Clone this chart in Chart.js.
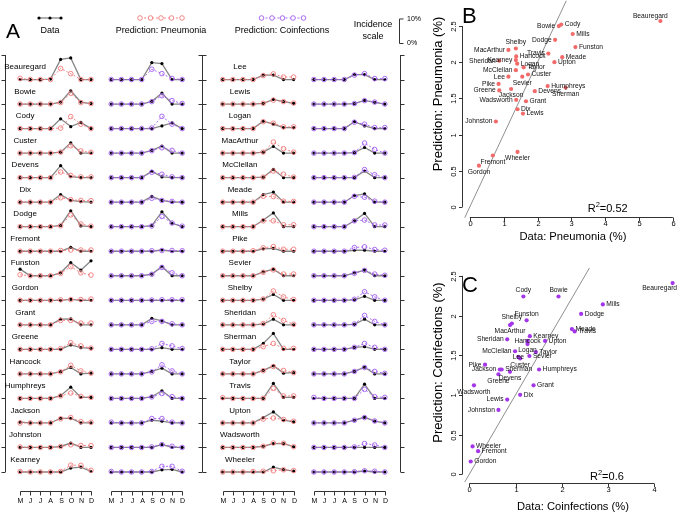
<!DOCTYPE html>
<html><head><meta charset="utf-8">
<script src="https://cdn.jsdelivr.net/npm/chart.js@4"></script>
<style>
html,body{margin:0;padding:0;background:#fff;}
#wrap{position:relative;width:685px;height:512px;overflow:hidden;background:#fff;}
.c{position:absolute;}
</style></head><body>
<div id="wrap">
<div class="c" style="left:0;top:0;width:430px;height:512px"><canvas id="pa"></canvas></div>
<div class="c" style="left:405px;top:0;width:280px;height:250px"><canvas id="pb"></canvas></div>
<div class="c" style="left:405px;top:250px;width:280px;height:262px"><canvas id="pc"></canvas></div>
</div>
<script>
// ---------------- DATA ----------------
const months = ['M','J','J','A','S','O','N','D'];
const camps = ['Beauregard','Bowie','Cody','Custer','Devens','Dix','Dodge','Fremont','Funston','Gordon','Grant','Greene','Hancock','Humphreys','Jackson','Johnston','Kearney',
  'Lee','Lewis','Logan','MacArthur','McClellan','Meade','Mills','Pike','Sevier','Shelby','Sheridan','Sherman','Taylor','Travis','Upton','Wadsworth','Wheeler'];
// monthly incidence (%), pneumonia: data
const pneuData = [
 [0,0,0,0.2,8.2,8.8,0,0],[0,0,0,0,0.8,5.4,0.8,0.2],[0,0,0,0,4.0,0.8,2.5,0],[0,0,0,0,0.4,4.2,0,0],
 [0,0,0,0,4.9,0.4,0,0],[0,0,0,0,3.1,0.7,0.2,0],[0,0,0,0,0.5,6.5,0.3,0],[0,0,0,0,0,1.6,0,0],
 [2.7,0,0,0,1.2,5.4,2.3,6.1],[0,0,0,0,0,0.4,0,0],[0,0,0,0,2.3,2.4,0,0],[0,0,0,0,0,1.8,0.7,0.4],
 [0,0,0,0,0.9,2.6,0,0.3],[0,0,0,0,1.1,4.6,0.4,0.4],[0.3,0,0,0,1.9,1.9,0,0],[0,0,0,0,0.4,1.8,0,0],
 [0,0,0,0,0,1.6,2.0,0.2],
 [0,0,0,0,1.8,1.8,0,0],[0,0,0,0,0.3,1.9,1.0,0.3],[0,0,0,0,3.0,1.8,0.4,0.4],[0,0,0,0,0.4,2.7,0,0],
 [0,0,0,0,0.2,3.4,0,0],[0,0,0,0,3.1,4.1,0,0],[0,0,0,0,2.7,5.6,0,0],[0,0,0,0,1.0,1.2,0,0],
 [0,0,0,0,1.6,2.7,0,0],[0,0,0,0,0.5,2.4,0,0],[0,0,0,0,0.3,2.3,0,0],[0,0,0,0,2.4,6.5,0,0],
 [0,0,0,0,1.4,3.3,0.3,0.5],[0,0,0,0,0,6.1,0.4,0.4],[0,0,0,0,2.2,4.5,1.1,0.4],[0,0,0,0,0.5,1.6,1.6,0.3],
 [0,0,0,0,0,2.0,1.0,0.4]];
// pneumonia: prediction
const pneuPred = [
 [0.5,0,0,0,4.5,2.4,0,0],[0,0,0,0,0.6,4.4,0.6,0.2],[0,0,0,0,0.2,4.9,1.8,0],[0,0,0,0,0.4,3.0,0.9,0.3],
 [0,0,0,0,2.3,0.9,0.3,0.3],[0,0,0,0,1.8,1.0,0.7,0.6],[0,0,0,0,0.4,4.8,1.1,0.2],[0,0,0,0,0.3,0.5,0.5,0.5],
 [0.4,0,0,0,1.0,3.7,1.2,0.3],[0,0,0,0,0.2,0.3,0.3,0.5],[0,0,0,0,1.8,1.8,0.7,0.7],[0,0,0,0,0.3,2.7,1.4,0.5],
 [0,0,0,0,0.8,3.5,1.2,0.3],[0,0,0,0,1.0,2.2,0.8,0.4],[0,0,0,0,1.7,2.2,0.5,0.3],[0.2,0,0,0,0.4,1.1,0.8,0.8],
 [0.2,0,0,0,0.2,2.8,2.7,0.7],
 [0,0,0,0,1.6,2.3,1.0,1.0],[0,0,0,0,0.3,1.6,1.0,0.4],[0,0,0,0,2.8,2.2,0.7,0.7],[0,0,0,0,0.4,4.5,1.8,0.4],
 [0,0,0,0,0.2,2.7,1.4,0.2],[0,0,0,0,2.4,2.3,0.4,0.3],[0,0,0,0,2.4,2.4,0.8,0.8],[0,0,0,0.2,1.4,1.9,0.8,0.8],
 [0,0,0,0,1.4,2.4,0.7,0.7],[0,0,0,0,0.5,3.8,1.4,0.3],[0,0,0,0,0.5,4.1,1.8,0.2],[0,0,0,0,1.1,2.4,0.4,0.4],
 [0,0,0,0,1.3,3.0,1.4,0.5],[0.3,0,0,0,0,4.1,1.0,1.0],[0,0,0,0,1.6,2.0,1.4,0.7],[0,0,0,0,0.5,1.8,1.7,0.3],
 [0,0,0,0.2,0.3,0.5,0.9,0.6]];
// coinfections: data
const coinData = [
 [0,0,0,0,6.9,6.5,0,0],[0,0,0,0,1.1,4.5,0,0],[0,0,0,0,0,1.1,2.3,0],[0,0,0,0,1.1,2.9,0,0],
 [0,0,0,0,2.6,0.3,0,0],[0,0,0,0,2.4,0.7,0,0],[0,0,0,0,0.4,6.1,1.4,0],[0,0,0,0,0,0.5,0,0],
 [0,0,0,0,0.7,3.7,0,0],[0,0,0,0,0,0,0,0],[0,0,0,0,2.6,1.6,0,0],[0,0,0,0,0,0.7,0,0],
 [0,0,0,0,1.0,2.3,0,0],[0,0,0,0,0.7,3.1,0,0],[0,0,0,0,1.1,0.7,0,0],[0,0,0,0,0,1.2,0,0],
 [0,0,0,0,0,0.9,1.1,0],
 [0,0,0,0,2.0,2.0,0,0],[0,0,0,0,0.2,1.5,0.7,0],[0,0,0,0,2.8,1.1,0,0],[0,0,0,0,0.2,2.3,0,0],
 [0,0,0,0,0,2.7,0,0],[0,0,0,0,2.7,3.4,0,0],[0,0,0,0,2.4,5.4,0,0],[0,0,0,0,0.4,0.4,0,0],
 [0,0,0,0,1.2,2.3,0,0],[0,0,0,0,0.2,1.6,0,0],[0,0,0,0,0.2,2.3,0,0],[0,0,0,0,0.8,1.1,0,0],
 [0,0,0,0,1.0,2.7,0,0],[0,0,0,0,0,5.8,0,0],[0,0,0,0,1.1,2.3,0.7,0],[0,0,0,0,0,0,0,0],
 [0,0,0,0,0,0.4,0,0]];
// coinfections: prediction
const coinPred = [
 [0,0,0,0,4.2,2.4,0.4,0],[0,0,0,0,1.0,3.4,1.4,0.2],[0,0,0,0,0.2,5.0,1.8,0],[0,0,0,0,1.0,2.2,1.1,0],
 [0,0,0,0,2.2,1.4,0.3,0],[0,0,0,0,1.6,0.7,0.3,0],[0,0,0,0,0.3,4.2,1.5,0.2],[0,0,0,0,0.2,0.3,0.3,0.2],
 [0,0,0,0,0.6,3.4,1.2,0],[0,0,0,0,0.1,0.2,0.2,0.2],[0,0,0,0,1.4,1.4,0.4,0],[0,0,0,0,0.2,2.4,1.4,0.3],
 [0,0,0,0,0.8,3.7,1.2,0],[0,0,0,0,0.6,2.0,0.7,0],[0.3,0,0,0,1.8,1.8,0.3,0],[0,0,0,0,0.2,1.2,0.5,0],
 [0.2,0,0,0,0.2,2.3,2.3,0.3],
 [0,0,0,0,1.8,2.4,0.4,0.4],[0,0,0,0,0.2,1.4,0.8,0],[0,0,0,0,2.6,1.8,0.4,0.4],[0,0,0,0,0.2,4.1,1.5,0],
 [0,0,0,0,0.1,3.3,1.2,0],[0,0,0,0,2.4,2.0,0.4,0],[0,0,0,0,2.4,2.7,0.7,0.7],[0,0,0,0,1.5,1.8,0.7,0.4],
 [0,0,0,0,1.0,2.2,0.7,0.2],[0,0,0,0,0.4,3.5,1.4,0],[0,0,0,0,0.3,3.8,1.4,0],[0,0,0,0,0.8,2.4,0.8,0],
 [0,0,0,0,1.0,2.6,1.0,0.2],[0.4,0,0,0,0,3.7,0.7,0.4],[0,0,0,0,1.1,2.2,0.8,0],[0,0,0,0,0.2,1.6,1.0,0],
 [0,0,0,0,0.1,0.5,0.3,0]];
// panel B: pneumonia (%) data vs prediction, camp order
const scatPneuData = [5.63,2.63,2.70,1.72,1.92,1.41,2.52,0.68,3.12,0.27,1.66,0.87,1.37,2.30,1.22,0.77,1.36,
  1.14,1.57,1.40,1.14,1.36,2.73,3.04,0.85,1.55,1.36,0.87,2.83,1.59,2.32,2.50,1.37,1.41];
const scatPneuPred = [2.57,2.50,2.52,1.83,1.60,1.35,2.31,0.71,2.21,0.57,1.46,1.61,2.08,1.67,1.63,1.18,2.03,
  1.80,1.29,1.98,2.17,1.89,2.07,2.39,1.70,1.80,2.19,2.02,1.65,1.93,2.12,2.00,1.48,0.76];
// panel C: coinfections (%) data vs prediction
const scatCoinData = [4.40,1.93,1.17,1.10,0.88,1.10,2.42,0.19,1.24,0.03,1.39,0.63,1.26,1.51,0.66,0.63,1.31,
  1.06,0.82,1.26,0.88,0.99,2.22,2.89,0.34,1.30,0.92,0.82,0.70,1.44,2.28,1.64,0.10,0.07];
const scatCoinPred = [2.41,2.24,2.24,1.46,1.29,1.00,2.02,0.29,1.94,0.16,1.12,1.26,1.68,1.32,1.32,0.81,1.74,
  1.48,0.94,1.64,1.88,1.55,1.83,2.14,1.38,1.49,1.90,1.70,1.32,1.54,1.80,1.68,1.12,0.35];
const r2Pneu = '0.52', r2Coin = '0.6';
const bTicksX = [0,1,2,3,4,5,6];
const cTicksX = [0,1,2,3,4];
const scatTicksY = [0,0.5,1,1.5,2,2.5];
const legendTexts = ['Data','Prediction: Pneumonia','Prediction: Coinfections'];
const scaleTexts = ['Incidence','scale','10%','0%'];

// ---------------- STYLE / LAYOUT ----------------
const FONT = '"Liberation Sans", Arial, Helvetica, sans-serif';
const PINK = '#f27b7b', PURPLE = '#a25cee', GRAYLINE = '#858585';
const colStart = [0, 9, 20, 29];
const frameX = [[-1.5,-1],[18,0],[37.5,1]];
const nameX = [0.5, 21.7];
const bLabelPos = ['tl','l','r','r','r','r','l','b','r','b','r','l','r','r','b','l','l',
  'l','r','r','l','l','r','r','l','b','t','l','b','r','l','r','l','b'];
const cLabelPos = ['bl','t','t','b','b','r','r','r','t','r','r','b','c','r','l','l','r',
  'c','l','b','b','l','r','r','l','r','t','l','r','r','r','r','b','r'];

const dataStyle = {borderColor:GRAYLINE, borderWidth:1.3, pointRadius:1.6, pointBackgroundColor:'#000',
  pointBorderColor:'#000', pointBorderWidth:0, order:2, clip:false, tension:0};
const predStyle = c => ({borderColor:c, borderWidth:0.9, borderDash:[2,2], pointRadius:2.3,
  pointBackgroundColor:'rgba(0,0,0,0)', pointBorderColor:c, pointBorderWidth:0.9, order:1, clip:false, tension:0});

const dsA = [];
camps.forEach((name,k)=>{
  const blk = Math.floor(k/17), row = k%17, base = (16-row)*10;
  const cp = colStart[blk*2], cc = colStart[blk*2+1];
  const pts = (vals,c)=>vals.map((v,i)=>({x:c+i, y:base+v}));
  dsA.push(Object.assign({data:pts(pneuData[k],cp)}, dataStyle));
  dsA.push(Object.assign({data:pts(pneuPred[k],cp)}, predStyle(PINK)));
  dsA.push(Object.assign({data:pts(coinData[k],cc)}, dataStyle));
  dsA.push(Object.assign({data:pts(coinPred[k],cc)}, predStyle(PURPLE)));
});

function circle(ctx,x,y,r,stroke,fill){ctx.beginPath();ctx.arc(x,y,r,0,Math.PI*2);if(fill){ctx.fillStyle=fill;ctx.fill();}if(stroke){ctx.strokeStyle=stroke;ctx.stroke();}}

const panelAPlugin = {
  id:'panelA',
  afterDraw(chart){
    const ctx = chart.ctx, xs = chart.scales.x, ys = chart.scales.y;
    const px = v=>xs.getPixelForValue(v), py = v=>ys.getPixelForValue(v);
    ctx.save();
    ctx.strokeStyle = '#333'; ctx.lineWidth = 1; ctx.setLineDash([]);
    frameX.forEach(([xv,side])=>{
      const x = Math.round(px(xv))+0.5;
      ctx.beginPath(); ctx.moveTo(x, py(0)); ctx.lineTo(x, py(170)); ctx.stroke();
      for(let v=0; v<=170; v+=10){
        const y = Math.round(py(v))+0.5;
        ctx.beginPath();
        if(side<=0){ctx.moveTo(x-4,y);ctx.lineTo(x,y);}
        if(side>=0){ctx.moveTo(x,y);ctx.lineTo(x+4,y);}
        ctx.stroke();
      }
    });
    // camp names
    ctx.fillStyle = '#000'; ctx.font = `8px ${FONT}`; ctx.textAlign='center'; ctx.textBaseline='middle';
    camps.forEach((name,k)=>{
      const blk = Math.floor(k/17), row = k%17;
      ctx.fillText(name, px(nameX[blk]), py((16-row)*10+5.1));
    });
    // month axes
    ctx.font = `7px ${FONT}`;
    colStart.forEach(c=>{
      const y0 = 491.5;
      ctx.beginPath(); ctx.moveTo(Math.round(px(c))+0.5,y0); ctx.lineTo(Math.round(px(c+7))+0.5,y0); ctx.stroke();
      months.forEach((m,i)=>{
        const x = Math.round(px(c+i))+0.5;
        ctx.beginPath(); ctx.moveTo(x,y0); ctx.lineTo(x,y0+4); ctx.stroke();
        ctx.fillText(m, x, 501);
      });
    });
    // panel letter
    ctx.font = `21px ${FONT}`; ctx.textAlign='left'; ctx.textBaseline='alphabetic';
    ctx.fillText('A', 6, 38);
    // legend samples
    const ly = 18;
    ctx.strokeStyle = GRAYLINE; ctx.lineWidth = 1.3;
    ctx.beginPath(); ctx.moveTo(39,ly); ctx.lineTo(61,ly); ctx.stroke();
    [39,50,61].forEach(x=>circle(ctx,x,ly,1.6,null,'#000'));
    const sample = (xs0,col)=>{
      ctx.lineWidth=0.9; ctx.strokeStyle=col; ctx.setLineDash([2,2]);
      ctx.beginPath(); ctx.moveTo(xs0[0],ly); ctx.lineTo(xs0[xs0.length-1],ly); ctx.stroke();
      ctx.setLineDash([]);
      xs0.forEach(x=>{circle(ctx,x,ly,2.3,col,'#fff');});
    };
    sample([140,150.5,161,171.5,182],PINK);
    sample([261.5,272,282.5,293,303.5],PURPLE);
    ctx.fillStyle='#000'; ctx.font = `9px ${FONT}`; ctx.textAlign='center'; ctx.textBaseline='middle';
    ctx.fillText(legendTexts[0], 50, 31);
    ctx.fillText(legendTexts[1], 161, 31);
    ctx.fillText(legendTexts[2], 282, 31);
    ctx.fillText(scaleTexts[0], 373, 24.5);
    ctx.fillText(scaleTexts[1], 373, 36.5);
    // incidence scale bar (10% in panel units)
    const len = py(0)-py(10);
    const bx = 399.5, bBot = 43.5, bTop = bBot-len;
    ctx.strokeStyle='#333'; ctx.lineWidth=1;
    ctx.beginPath(); ctx.moveTo(bx,bTop); ctx.lineTo(bx,bBot);
    ctx.moveTo(bx,bTop); ctx.lineTo(bx+4,bTop); ctx.moveTo(bx,bBot); ctx.lineTo(bx+4,bBot); ctx.stroke();
    ctx.font = `7px ${FONT}`; ctx.textAlign='left';
    ctx.fillText(scaleTexts[2], 407, bTop);
    ctx.fillText(scaleTexts[3], 407, bBot);
    ctx.restore();
  }
};

new Chart(document.getElementById('pa'), {
  type:'line',
  data:{datasets:dsA},
  options:{responsive:true, maintainAspectRatio:false, animation:false, events:[],
    layout:{padding:{left:4,right:30,top:55,bottom:40}},
    plugins:{legend:{display:false}, tooltip:{enabled:false}},
    scales:{x:{type:'linear',min:-1.5,max:37.5,display:false}, y:{type:'linear',min:0,max:170,display:false}}},
  plugins:[panelAPlugin]
});

function drawLabel(ctx,x,y,t,pos){
  let ax='center', dx=0, dy=0;
  if(pos==='r'){ax='left';dx=3.5;}
  else if(pos==='l'){ax='right';dx=-3.5;}
  else if(pos==='t'){dy=-6;}
  else if(pos==='b'){dy=6.5;}
  else if(pos==='tl'){dx=-10;dy=-5;}
  else if(pos==='bl'){dx=-13;dy=5;}
  ctx.textAlign=ax; ctx.fillText(t,x+dx,y+dy);
}

function scatterPlugin(cfg){
  return {
    id:'sc'+cfg.letter,
    afterDraw(chart){
      const ctx=chart.ctx, xs=chart.scales.x, ys=chart.scales.y, ca=chart.chartArea;
      ctx.save();
      const meta = chart.getDatasetMeta(0);
      ctx.fillStyle='#111'; ctx.font=`6.7px ${FONT}`; ctx.textBaseline='middle';
      meta.data.forEach((el,i)=>drawLabel(ctx,el.x,el.y,camps[i],cfg.pos[i]));
      ctx.strokeStyle='#333'; ctx.lineWidth=1; ctx.fillStyle='#000';
      const y0 = Math.round(ca.bottom)+0.5;
      ctx.beginPath(); ctx.moveTo(xs.getPixelForValue(cfg.tx[0]),y0); ctx.lineTo(xs.getPixelForValue(cfg.tx[cfg.tx.length-1]),y0); ctx.stroke();
      ctx.font=`7.5px ${FONT}`; ctx.textAlign='center'; ctx.textBaseline='middle';
      cfg.tx.forEach(v=>{const x=Math.round(xs.getPixelForValue(v))+0.5; ctx.beginPath(); ctx.moveTo(x,y0); ctx.lineTo(x,y0+3.5); ctx.stroke(); ctx.fillText(String(v),x,y0+6.5);});
      const x0 = Math.round(ca.left)+0.5;
      ctx.beginPath(); ctx.moveTo(x0,ys.getPixelForValue(cfg.ty[0])); ctx.lineTo(x0,ys.getPixelForValue(cfg.ty[cfg.ty.length-1])); ctx.stroke();
      cfg.ty.forEach(v=>{const y=Math.round(ys.getPixelForValue(v))+0.5; ctx.beginPath(); ctx.moveTo(x0-3.5,y); ctx.lineTo(x0,y); ctx.stroke();
        ctx.save(); ctx.translate(x0-8.5,y); ctx.rotate(-Math.PI/2); ctx.fillText(String(v),0,0); ctx.restore();});
      ctx.font=`11.2px ${FONT}`;
      ctx.fillText(cfg.xTitle, cfg.xTitlePos[0], cfg.xTitlePos[1]);
      ctx.save(); ctx.translate(cfg.yTitlePos[0], cfg.yTitlePos[1]); ctx.rotate(-Math.PI/2); ctx.font=`13px ${FONT}`; ctx.fillText(cfg.yTitle,0,0); ctx.restore();
      ctx.textAlign='left'; ctx.textBaseline='alphabetic'; ctx.font=`11px ${FONT}`;
      let x=cfg.r2Pos[0]; const y=cfg.r2Pos[1];
      ctx.fillText('R',x,y); x+=ctx.measureText('R').width;
      ctx.font=`7.5px ${FONT}`; ctx.fillText('2',x,y-5); x+=ctx.measureText('2').width;
      ctx.font=`11px ${FONT}`; ctx.fillText('='+cfg.r2,x,y);
      ctx.font=`22px ${FONT}`; ctx.fillText(cfg.letter, cfg.letterPos[0], cfg.letterPos[1]);
      ctx.restore();
    }
  };
}

function makeScatter(id, xv, yv, color, lineEnd, pad, xr, yr, cfg){
  new Chart(document.getElementById(id), {
    type:'scatter',
    data:{datasets:[
      {data:camps.map((n,i)=>({x:xv[i],y:yv[i]})), pointRadius:2.1, pointBackgroundColor:color, pointBorderWidth:0, order:1, clip:false},
      {type:'line', data:[{x:lineEnd[0],y:lineEnd[0]},{x:lineEnd[1],y:lineEnd[1]}], borderColor:'#8f8f8f', borderWidth:1, pointRadius:0, showLine:true, order:2, clip:false}
    ]},
    options:{responsive:true, maintainAspectRatio:false, animation:false, events:[],
      layout:{padding:pad},
      plugins:{legend:{display:false}, tooltip:{enabled:false}},
      scales:{x:{type:'linear',min:xr[0],max:xr[1],display:false}, y:{type:'linear',min:yr[0],max:yr[1],display:false}}},
    plugins:[scatterPlugin(cfg)]
  });
}

makeScatter('pb', scatPneuData, scatPneuPred, '#f26a6a', [-0.15,2.85],
  {left:56.7,right:1,top:0,bottom:33.3}, [-0.24,6.24], [-0.136,2.805],
  {letter:'B', pos:bLabelPos, tx:bTicksX, ty:scatTicksY, xTitle:'Data: Pneumonia (%)', yTitle:'Prediction: Pneumonia (%)',
   xTitlePos:[168,236.7], yTitlePos:[33.3,94], r2:r2Pneu, r2Pos:[182.7,211.7], letterPos:[57,23]});

makeScatter('pc', scatCoinData, scatCoinPred, '#a336e8', [-0.1,2.6],
  {left:56.7,right:5,top:0,bottom:28.7}, [-0.165,4.56], [-0.115,2.776],
  {letter:'C', pos:cLabelPos, tx:cTicksX, ty:scatTicksY, xTitle:'Data: Coinfections (%)', yTitle:'Prediction: Coinfections (%)',
   xTitlePos:[168,256.7], yTitlePos:[33.3,112.5], r2:r2Coin, r2Pos:[185,230], letterPos:[57,42]});
</script>
</body></html>
